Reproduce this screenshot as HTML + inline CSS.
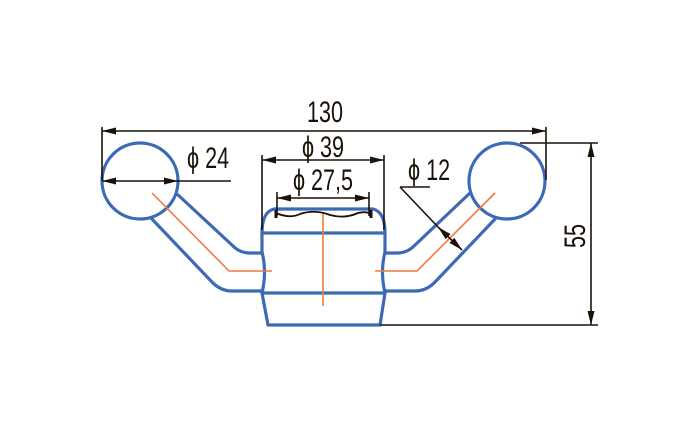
<!DOCTYPE html>
<html><head><style>body{margin:0;background:#fff}svg{display:block}</style></head><body>
<svg width="698" height="428" viewBox="0 0 698 428" xmlns="http://www.w3.org/2000/svg">
<defs>
<marker id="a" markerWidth="14" markerHeight="8" refX="14" refY="4" orient="auto-start-reverse" markerUnits="userSpaceOnUse"><path d="M0,0.5 L14,4 L0,7.5 Z" fill="#1a1208"/></marker>
</defs>
<g fill="none" stroke="#3c6ab5" stroke-width="3.2" stroke-linejoin="round">
<circle cx="140" cy="181" r="38"/>
<circle cx="507" cy="181" r="38"/>
<path d="M177,194 L233,246 Q240,253 250,253 L262,253"/>
<path d="M151,218 L211,281 Q220,291 232,291 L262,291"/>
<path d="M470,193 L414,246 Q407,253 397,253 L385,253"/>
<path d="M496,218 L436,281 Q427,291 415,291 L385,291"/>
<path d="M262,233 Q262,212 274,209 L373,209 Q385,212 385,233 L385,252 Q380,272 385,293 L380,325 L268,325 L262,293 Q267,272 262,252 Z"/>
<line x1="262" y1="233" x2="385" y2="233"/>
<line x1="262" y1="293" x2="385" y2="293"/>
</g>
<g stroke="#f07a3c" stroke-width="1.6" fill="none">
<path d="M152,193 L229,271 L272,271"/>
<path d="M495,193 L417,271 L375,271"/>
<line x1="323" y1="212" x2="323" y2="306"/>
</g>
<g stroke="#1a1208" stroke-width="1.6" fill="none">
<path d="M276,213 Q290,219 300,214 Q315,209 330,215 Q345,219 358,213 Q366,211 371,214" stroke-width="1.8"/>
<line x1="276" y1="210" x2="276" y2="218" stroke-width="3"/>
<line x1="371" y1="210" x2="371" y2="218" stroke-width="3"/>
<line x1="102" y1="127" x2="102" y2="180"/>
<line x1="546" y1="127" x2="546" y2="180"/>
<line x1="102" y1="131" x2="546" y2="131" marker-start="url(#a)" marker-end="url(#a)"/>
<line x1="262" y1="155" x2="262" y2="230"/>
<line x1="384" y1="155" x2="384" y2="230"/>
<line x1="262" y1="160" x2="384" y2="160" marker-start="url(#a)" marker-end="url(#a)"/>
<line x1="277" y1="192" x2="277" y2="216"/>
<line x1="369" y1="192" x2="369" y2="216"/>
<line x1="277" y1="198" x2="369" y2="198" marker-start="url(#a)" marker-end="url(#a)"/>
<line x1="102" y1="181" x2="178" y2="181" marker-start="url(#a)" marker-end="url(#a)"/>
<line x1="178" y1="181" x2="231" y2="181"/>
<path d="M400,187 L430,187"/>
<line x1="400" y1="187" x2="438" y2="227"/>
<line x1="438" y1="227" x2="462" y2="250" marker-start="url(#a)" marker-end="url(#a)"/>
<line x1="520" y1="143" x2="598" y2="143"/>
<line x1="380" y1="325" x2="598" y2="325"/>
<line x1="591" y1="143" x2="591" y2="325" marker-start="url(#a)" marker-end="url(#a)"/>
</g>
<g fill="#1a1208" font-family="Liberation Sans, sans-serif" font-size="30">
<text transform="translate(325 122) scale(0.72 1)" text-anchor="middle">130</text>
<text transform="translate(323 157) scale(0.72 1)" text-anchor="middle">ϕ 39</text>
<text transform="translate(323 190) scale(0.72 1)" text-anchor="middle">ϕ 27,5</text>
<text transform="translate(187 168) scale(0.72 1)">ϕ 24</text>
<text transform="translate(408 180) scale(0.72 1)">ϕ 12</text>
<text transform="translate(585 236) rotate(-90) scale(0.72 1)" text-anchor="middle">55</text>
</g>
</svg>
</body></html>
